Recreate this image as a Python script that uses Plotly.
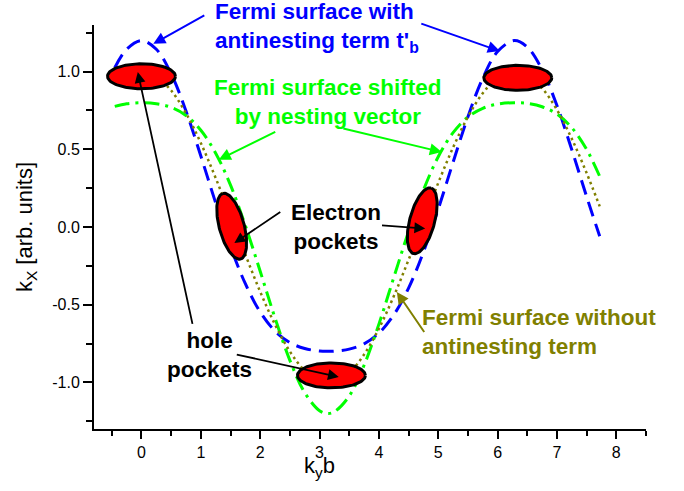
import numpy as np
import plotly.graph_objects as go

# ---------------- data ----------------
ky_grid = [-0.45, -0.25, 0.0, 0.25, 0.5, 0.75, 1.0, 1.25, 1.5, 1.75, 2.0, 2.25, 2.5, 2.75,
           3.0, 3.14, 3.25, 3.5, 3.75, 4.0, 4.25, 4.5, 4.75, 5.0, 5.25, 5.5, 5.75, 6.0,
           6.28, 6.5, 6.75, 7.0, 7.25, 7.5, 7.72]

# Fermi surface with antinesting term t'_b (blue dashed)
kx_antinesting = [1.025, 1.144, 1.200, 1.144, 0.986, 0.746, 0.457, 0.155, -0.127, -0.365,
                  -0.547, -0.670, -0.744, -0.782, -0.798, -0.800, -0.799, -0.786, -0.752,
                  -0.683, -0.566, -0.393, -0.161, 0.116, 0.417, 0.710, 0.958, 1.129, 1.200,
                  1.158, 1.012, 0.781, 0.497, 0.195, -0.060]

# Fermi surface shifted by nesting vector (green dash-dot)
kx_shifted = [0.776, 0.793, 0.800, 0.793, 0.770, 0.718, 0.623, 0.475, 0.269, 0.009,
              -0.285, -0.586, -0.858, -1.066, -1.182, -1.200, -1.189, -1.088, -0.890,
              -0.625, -0.326, -0.029, 0.237, 0.452, 0.607, 0.708, 0.764, 0.791, 0.800,
              0.796, 0.774, 0.727, 0.639, 0.499, 0.326]

# Fermi surface without antinesting term (olive dotted)
ky_plain = ky_grid[2:]
kx_plain = [1.000, 0.969, 0.878, 0.732, 0.540, 0.315, 0.071, -0.178, -0.416, -0.628,
            -0.801, -0.924, -0.990, -1.000, -0.994, -0.937, -0.821, -0.654, -0.446,
            -0.211, 0.038, 0.284, 0.512, 0.709, 0.861, 0.960, 1.000, 0.977, 0.893,
            0.754, 0.568, 0.347, 0.133]

# pockets (centres)
hole_ky = [0.0, 6.34, 3.20]
hole_kx = [0.97, 0.96, -0.955]
electron_ky = [1.52, 4.73]
electron_kx = [0.005, 0.04]

x_ticks = [0, 1, 2, 3, 4, 5, 6, 7, 8]
y_ticks = [-1.0, -0.5, 0.0, 0.5, 1.0]
y_tick_text = ["-1.0", "-0.5", "0.0", "0.5", "1.0"]

# ---------------- layout geometry / style ----------------
W, H = 684, 491
MARGIN = dict(l=94, r=37.5, t=24.5, b=62)
X_RANGE = [-0.8, 8.5]
Y_RANGE = [-1.3, 1.3]
plot_w = W - MARGIN["l"] - MARGIN["r"]
plot_h = H - MARGIN["t"] - MARGIN["b"]
sx = plot_w / (X_RANGE[1] - X_RANGE[0])   # px per ky unit
sy = plot_h / (Y_RANGE[1] - Y_RANGE[0])   # px per kx unit

POCKET_A, POCKET_B = 34, 12.5              # semi-axes in px
hole_angle = [0, 0, 0]
electron_angle = [105, 75]

BLUE, GREEN, OLIVE, RED = "#0000FF", "#00FF00", "#808000", "#FF0000"
FONT = "Liberation Sans, Arial, sans-serif"


def ellipse(cx, cy, ang_deg):
    t = np.linspace(0, 2 * np.pi, 120)
    th = np.radians(ang_deg)
    px = POCKET_A * np.cos(t) * np.cos(th) - POCKET_B * np.sin(t) * np.sin(th)
    py = POCKET_A * np.cos(t) * np.sin(th) + POCKET_B * np.sin(t) * np.cos(th)
    return cx + px / sx, cy + py / sy


fig = go.Figure()

fig.add_trace(go.Scatter(x=ky_grid, y=kx_antinesting, mode="lines",
                         line=dict(color=BLUE, width=3, dash="15px,8px", shape="spline"),
                         name="with antinesting term", showlegend=False))
fig.add_trace(go.Scatter(x=ky_grid, y=kx_shifted, mode="lines",
                         line=dict(color=GREEN, width=3, dash="15px,6px,3px,6px", shape="spline"),
                         name="shifted by nesting vector", showlegend=False))
fig.add_trace(go.Scatter(x=ky_plain, y=kx_plain, mode="lines",
                         line=dict(color=OLIVE, width=2.5, dash="2.5px,3.5px", shape="spline"),
                         name="without antinesting term", showlegend=False))

for cx, cy, ang in list(zip(hole_ky, hole_kx, hole_angle)) + list(zip(electron_ky, electron_kx, electron_angle)):
    ex, ey = ellipse(cx, cy, ang)
    fig.add_trace(go.Scatter(x=ex, y=ey, mode="lines", fill="toself", fillcolor=RED,
                             line=dict(color="black", width=3), showlegend=False,
                             hoverinfo="skip"))

annotations = []
TXT = 22.5


def text_ann(x, y, text, color, xanchor="center", align="center"):
    annotations.append(dict(x=x, y=y, xref="x", yref="y", text=text, showarrow=False,
                            xanchor=xanchor, yanchor="middle", align=align,
                            font=dict(family=FONT, size=TXT, color=color, weight="bold")))


def arrow(x, y, ax, ay, color, width=2):
    annotations.append(dict(x=x, y=y, xref="x", yref="y", ax=ax, ay=ay, text="",
                            showarrow=True, arrowhead=2, arrowsize=1.2,
                            arrowwidth=width, arrowcolor=color, standoff=0))


text_ann(1.212, 1.285, "Fermi surface with<br>antinesting term t'<sub>b</sub>", BLUE,
         xanchor="left", align="left")
arrow(0.199, 1.179, 52.5, -29.3, BLUE)
arrow(6.037, 1.132, -80, -28, BLUE)

text_ann(3.147, 0.802, "Fermi surface shifted<br>by nesting vector", GREEN)
arrow(1.302, 0.433, 58, -28.6, GREEN)
arrow(5.06, 0.482, -100, -24, GREEN)

text_ann(3.282, 0.002, "Electron<br>pockets", "black")
arrow(1.565, -0.103, 47.4, -32, "black", 1.8)
arrow(4.78, -0.010, -44.7, -3.3, "black", 1.8)

text_ann(1.151, -0.825, "hole<br>pockets", "black")
arrow(-0.062, 0.997, 55, 253.3, "black", 1.8)
arrow(3.324, -0.965, -103.5, -22.7, "black", 1.8)

text_ann(4.689, -0.677, "Fermi surface without<br>antinesting term", OLIVE,
         xanchor="left", align="left")
arrow(4.302, -0.418, 28.4, 41.6, OLIVE)

# axis titles
annotations.append(dict(x=(26 - MARGIN["l"]) / plot_w, y=0.5, xref="paper", yref="paper",
                        text="k<sub>X</sub> [arb. units]", textangle=-90, showarrow=False,
                        xanchor="center", yanchor="middle",
                        font=dict(family=FONT, size=22, color="black")))
annotations.append(dict(x=(320 - MARGIN["l"]) / plot_w, y=-(467 - (H - MARGIN["b"])) / plot_h,
                        xref="paper", yref="paper",
                        text="k<sub>y</sub>b", showarrow=False,
                        xanchor="center", yanchor="middle",
                        font=dict(family=FONT, size=22, color="black")))

fig.update_layout(
    width=W, height=H, margin=MARGIN, autosize=False,
    paper_bgcolor="white", plot_bgcolor="white",
    annotations=annotations,
    xaxis=dict(range=X_RANGE, showgrid=False, zeroline=False, showline=True,
               linecolor="black", linewidth=2, ticks="outside", ticklen=8, tickwidth=1.5,
               tickcolor="black", tickvals=x_ticks,
               tickfont=dict(family=FONT, size=16, color="black"),
               minor=dict(tickvals=[-0.5, 0.5, 1.5, 2.5, 3.5, 4.5, 5.5, 6.5, 7.5, 8.5],
                          ticks="outside", ticklen=5, tickwidth=1.5, tickcolor="black",
                          showgrid=False)),
    yaxis=dict(range=Y_RANGE, showgrid=False, zeroline=False, showline=True,
               linecolor="black", linewidth=2, ticks="outside", ticklen=9, tickwidth=1.5,
               tickcolor="black", tickvals=y_ticks, ticktext=y_tick_text,
               tickfont=dict(family=FONT, size=16, color="black"),
               minor=dict(tickvals=[-1.25, -0.75, -0.25, 0.25, 0.75, 1.25],
                          ticks="outside", ticklen=6, tickwidth=1.5, tickcolor="black",
                          showgrid=False)),
)

fig.write_html("out.html", config={"displayModeBar": False},
               post_script="document.body.style.margin='0';document.body.style.overflow='hidden';")
